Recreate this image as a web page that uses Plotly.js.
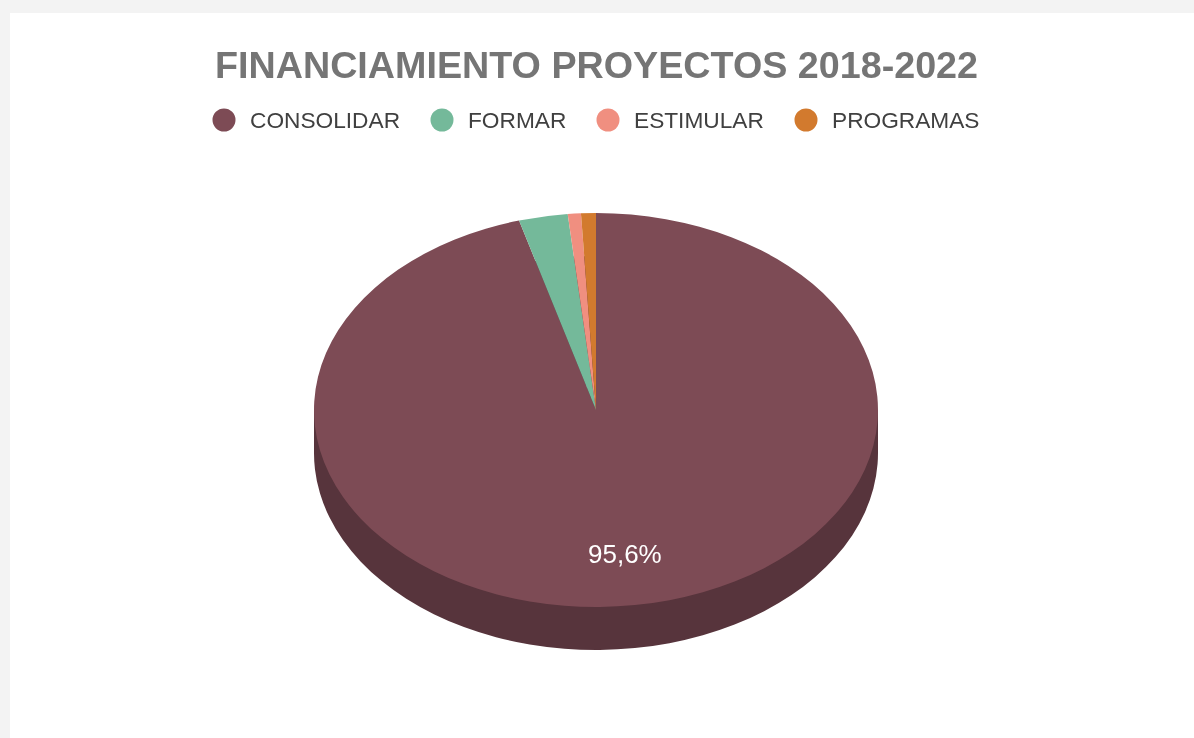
<!DOCTYPE html>
<html><head><meta charset="utf-8">
<script src="https://cdn.plot.ly/plotly-3.0.1.min.js"></script>
<style>html,body{margin:0;padding:0;background:#f3f3f3;overflow:hidden}#c{width:1194px;height:738px;filter:blur(0.45px)}</style>
</head><body><div id="c"></div>
<script>
const categories = ["CONSOLIDAR","FORMAR","ESTIMULAR","PROGRAMAS"];
const values = [95.6,2.8,0.75,0.85];
const colors = ["#7d4b55","#74b99a","#f08f80","#d27a2e"];
const wallColor = "#57343c";
const legendCircleX = [224,442,608,806];
const legendTextX = [250,468,634,832];

const W=1194,H=738,cx=596,cy=410,rx=282,ry=197,depth=43;
const dom=(c)=>({x:[(cx-rx)/W,(cx+rx)/W],y:[1-(c+rx)/H,1-(c-rx)/H]});
const pie=(c,cols)=>({type:"pie",labels:categories,values:values,sort:false,direction:"clockwise",rotation:0,
  domain:dom(c),marker:{colors:cols,line:{width:0}},textinfo:"none",hoverinfo:"skip",showlegend:false});
const shapes=[
 {type:"rect",xref:"paper",yref:"paper",x0:10/W,x1:1,y0:0,y1:1-13/H,fillcolor:"#ffffff",line:{width:0},layer:"below"},
 {type:"rect",xref:"paper",yref:"paper",x0:(cx-rx)/W,x1:(cx+rx)/W,y0:1-(cy+depth)/H,y1:1-cy/H,fillcolor:wallColor,line:{width:0},layer:"below"}
];
const annotations=[
 {xref:"paper",yref:"paper",x:596.5/W,y:1-65/H,text:"<b>FINANCIAMIENTO PROYECTOS 2018-2022</b>",showarrow:false,xanchor:"center",yanchor:"middle",font:{family:"Liberation Sans",size:37.7,color:"#757575"}},
 {xref:"paper",yref:"paper",x:624.5/W,y:1-554/H,text:values[0].toFixed(1).replace(".",",")+"%",showarrow:false,xanchor:"center",yanchor:"middle",font:{family:"Liberation Sans",size:26,color:"#ffffff"}}
];
categories.forEach((n,i)=>{
 shapes.push({type:"circle",xref:"paper",yref:"paper",x0:(legendCircleX[i]-11.5)/W,x1:(legendCircleX[i]+11.5)/W,y0:1-(120+11.5)/H,y1:1-(120-11.5)/H,fillcolor:colors[i],line:{width:0}});
 annotations.push({xref:"paper",yref:"paper",x:(legendTextX[i]-2)/W,y:1-120/H,text:n,showarrow:false,xanchor:"left",yanchor:"middle",font:{family:"Liberation Sans",size:22.7,color:"#404040"}});
});
const squash=()=>{
 const k=ry/rx;
 document.querySelectorAll("#c .pielayer .trace").forEach((g,i)=>{
  const c=i===0?cy+depth:cy;
  g.setAttribute("transform",`translate(0,${c}) scale(1,${k}) translate(0,${-c})`);
 });
};
Plotly.newPlot("c",[pie(cy+depth,categories.map(()=>wallColor)),pie(cy,colors)],
 {width:W,height:H,margin:{l:0,r:0,t:0,b:0},paper_bgcolor:"#f3f3f3",showlegend:false,shapes,annotations},
 {staticPlot:true,displayModeBar:false}).then(squash);
</script></body></html>
